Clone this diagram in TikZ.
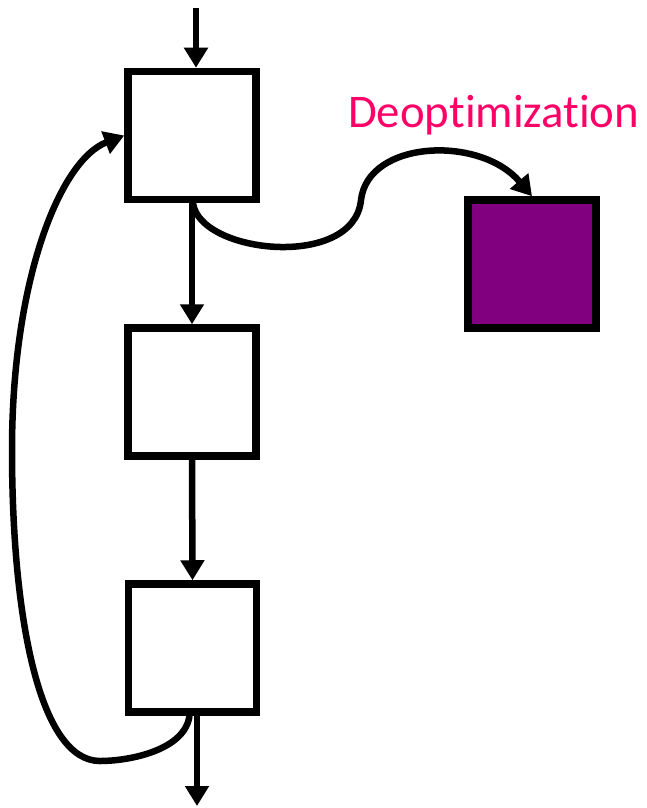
\documentclass[tikz,border=0pt]{standalone}
\usepackage{fontspec}
\setmainfont{Carlito}[Ligatures=NoCommon]
\usetikzlibrary{arrows.meta}
\definecolor{deoptpink}{RGB}{255,0,102}
\definecolor{deoptpurple}{RGB}{128,0,128}
\begin{document}
\begin{tikzpicture}[x=1pt,y=-1pt,
  block/.style={draw=black,line width=7.5pt,fill=white,rectangle,inner sep=0pt,
    minimum width=128pt,minimum height=128pt},
  flow/.style={line width=6.5pt,-{Triangle[length=20pt,width=23pt]}}]
\useasboundingbox (0,0) rectangle (646,808);
% control-flow blocks
\node[block] (b1) at (192,135.5) {};
\node[block] (b2) at (192,392) {};
\node[block] (b3) at (192.5,648) {};
\node[block,fill=deoptpurple] (deopt) at (532,264) {};
\node[text=deoptpink,font=\fontsize{46.8pt}{50pt}\selectfont,anchor=base west,inner sep=0pt]
  (label) at (348,127) {Deoptimization};
% entry and exit
\coordinate (entry) at (196,8);
\coordinate (exit) at (197,806);
\draw[flow] (entry) -- (entry |- b1.north);
\draw[flow] (b1.south) -- (b2.north);
\draw[flow] (b2.south) -- (b3.north);
\draw[flow] ([xshift=4.5pt]b3.south) -- (exit);
% bail-out edge to the deoptimized block
\draw[flow] ([xshift=1pt]b1.south) .. controls (200,254) and (354,270) .. (361,200)
  .. controls (368,140) and (480,135) .. (deopt.north);
% loop back-edge
\draw[flow] ([xshift=-3pt]b3.south) .. controls (185,750) and (130,761) .. (100,761)
  .. controls (40,761) and (12,620) .. (12,450)
  .. controls (12,280) and (60,160) .. (b1.west);
\end{tikzpicture}
\end{document}
